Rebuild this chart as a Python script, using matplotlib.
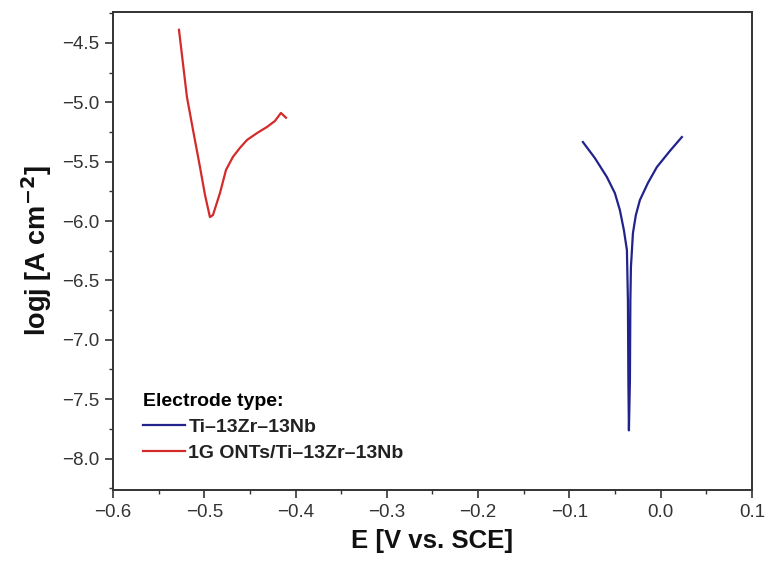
import matplotlib
matplotlib.use("Agg")
import matplotlib.pyplot as plt
from matplotlib.ticker import MultipleLocator

plt.rcParams['font.family'] = ['Liberation Sans', 'DejaVu Sans']

# Ti-13Zr-13Nb (blue)
E_ti = [-0.0852, -0.0721, -0.0589, -0.0502, -0.0447, -0.0403, -0.0370, -0.0359, -0.0354, -0.0348,
        -0.0337, -0.0332, -0.0326, -0.0304, -0.0272, -0.0228, -0.0140, -0.0042, 0.0101, 0.0232]
logj_ti = [-5.335, -5.47, -5.63, -5.765, -5.908, -6.077, -6.245, -6.667, -7.34, -7.763,
           -7.34, -6.667, -6.389, -6.102, -5.95, -5.824, -5.68, -5.546, -5.41, -5.293]

# 1G ONTs/Ti-13Zr-13Nb (red)
E_ont = [-0.5277, -0.519, -0.5124, -0.5047, -0.4992, -0.4938, -0.4905, -0.4828, -0.4762, -0.4686,
         -0.461, -0.4532, -0.4423, -0.4313, -0.4226, -0.416, -0.4105]
logj_ont = [-4.39, -4.955, -5.23, -5.545, -5.78, -5.967, -5.95, -5.765, -5.57, -5.46,
            -5.385, -5.318, -5.26, -5.208, -5.158, -5.09, -5.13]

labels = ["Ti\u201313Zr\u201313Nb", "1G ONTs/Ti\u201313Zr\u201313Nb"]

fig = plt.figure(figsize=(7.67, 5.61), dpi=100)
ax = fig.add_axes([0.1473, 0.1266, 0.8331, 0.852])
ax.plot(E_ti, logj_ti, color='#22228c', lw=1.6, label=labels[0])
ax.plot(E_ont, logj_ont, color='#d42a2a', lw=1.6, label=labels[1])

ax.set_xlim(-0.6, 0.1)
ax.set_ylim(-8.265, -4.24)
ax.xaxis.set_major_locator(MultipleLocator(0.1))
ax.xaxis.set_minor_locator(MultipleLocator(0.05))
ax.yaxis.set_major_locator(MultipleLocator(0.5))
ax.yaxis.set_minor_locator(MultipleLocator(0.25))
ax.tick_params(which='major', direction='out', length=6, width=1.2, labelsize=13.5,
               colors='#333333', pad=4)
ax.tick_params(which='minor', direction='out', length=3, width=1.0, colors='#333333')
for s in ax.spines.values():
    s.set_linewidth(1.4)
    s.set_color('#333333')

ax.set_xlabel("E [V vs. SCE]", fontsize=18.5, fontweight='bold', labelpad=6, color='#111111')
ax.set_ylabel("logj [A cm$^{\\mathbf{-2}}$]", fontsize=19.5, fontweight='bold', labelpad=6,
              color='#111111')

leg = ax.legend(loc='lower left', bbox_to_anchor=(0.025, 0.03), frameon=False,
                title="Electrode type:", fontsize=14, handlelength=2.2, handletextpad=0.15,
                labelspacing=0.42, alignment='left', borderpad=0.2,
                title_fontproperties={'weight': 'bold', 'size': 14})
for t in leg.get_texts():
    t.set_fontweight('bold')
    t.set_color('#222222')

fig.savefig("out.png", dpi=100)
